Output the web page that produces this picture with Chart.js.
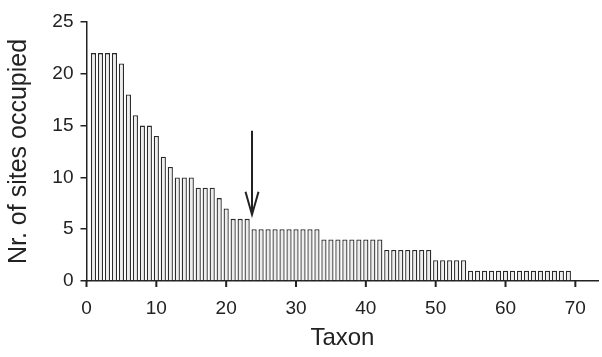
<!DOCTYPE html>
<html>
<head>
<meta charset="utf-8">
<script src="https://cdn.jsdelivr.net/npm/chart.js@4"></script>
<style>
  html, body { margin: 0; padding: 0; background: #fff; }
  #wrap { width: 602px; height: 357px; }
</style>
</head>
<body>
<div id="wrap"><canvas id="chart" width="602" height="357"></canvas></div>
<script>
// sites occupied per taxon (taxa ranked 1..69)
const siteCounts = [
  22, 22, 22, 22, 21, 18, 16, 15, 15, 14,
  12, 11, 10, 10, 10, 9, 9, 9, 8, 7,
  6, 6, 6, 5, 5, 5, 5, 5, 5, 5,
  5, 5, 5, 4, 4, 4, 4, 4, 4, 4,
  4, 4, 3, 3, 3, 3, 3, 3, 3, 2,
  2, 2, 2, 2, 1, 1, 1, 1, 1, 1,
  1, 1, 1, 1, 1, 1, 1, 1, 1
];
const taxa = siteCounts.map((_, i) => i + 1);
const xTicks = [0, 10, 20, 30, 40, 50, 60, 70];
const yTicks = [0, 5, 10, 15, 20, 25];
// arrow marker, in data units
const arrowAt = { x: 23.7, yFrom: 14.5, yTo: 6.4 };

const ink = '#222';
const font = { family: '"Liberation Sans", Arial, sans-serif', size: 19 };
const titleFont = { family: font.family, size: 24 };

// arrow + x tick marks
const extrasPlugin = {
  id: 'extras',
  afterDraw(chart) {
    const { ctx, scales } = chart;
    const base = scales.y.getPixelForValue(0);
    ctx.save();
    ctx.strokeStyle = ink;
    ctx.lineWidth = 2;
    xTicks.forEach(v => {
      const px = scales.x.getPixelForValue(v);
      ctx.beginPath();
      ctx.moveTo(px, base);
      ctx.lineTo(px, base + 6);
      ctx.stroke();
    });

    const x = scales.x.getPixelForValue(arrowAt.x);
    const y0 = scales.y.getPixelForValue(arrowAt.yFrom);
    const y1 = scales.y.getPixelForValue(arrowAt.yTo);
    ctx.beginPath();
    ctx.moveTo(x, y0);
    ctx.lineTo(x, y1);
    ctx.moveTo(x - 6.5, y1 - 23);
    ctx.lineTo(x, y1);
    ctx.lineTo(x + 6.5, y1 - 23);
    ctx.stroke();
    ctx.restore();
  }
};

new Chart(document.getElementById('chart').getContext('2d'), {
  type: 'bar',
  data: {
    datasets: [{
      data: taxa.map((t, i) => ({ x: t, y: siteCounts[i] })),
      backgroundColor: '#ededed',
      borderColor: '#2a2a2a',
      borderWidth: 1.3,
      borderSkipped: 'bottom',
      categoryPercentage: 1,
      barPercentage: 0.74
    }]
  },
  options: {
    responsive: false,
    animation: false,
    layout: { padding: { top: 22, right: 2, left: 0, bottom: 0 } },
    plugins: { legend: { display: false }, tooltip: { enabled: false } },
    scales: {
      x: {
        type: 'linear',
        offset: false,
        min: 0,
        max: 73.3,
        afterBuildTicks: s => { s.ticks = xTicks.map(v => ({ value: v })); },
        afterFit: s => { s.height = 76; },
        ticks: { font, color: ink, padding: 16, maxRotation: 0, includeBounds: false },
        grid: { offset: false, drawOnChartArea: false, drawTicks: false },
        border: { display: true, color: ink, width: 1.5 },
        title: { display: true, text: 'Taxon', font: titleFont, color: ink, padding: { top: 6 } }
      },
      y: {
        min: 0,
        max: 25,
        afterBuildTicks: s => { s.ticks = yTicks.map(v => ({ value: v })); },
        afterFit: s => { s.width = 86.5; },
        ticks: { font, color: ink, padding: 7 },
        grid: { drawOnChartArea: false, drawTicks: true, tickLength: 6, color: ink, lineWidth: 1.5 },
        border: { display: true, color: ink, width: 1.5 },
        title: { display: true, text: 'Nr. of sites occupied', font: { family: font.family, size: 25 }, color: ink, padding: { bottom: 0 } }
      }
    }
  },
  plugins: [extrasPlugin]
});
</script>
</body>
</html>
